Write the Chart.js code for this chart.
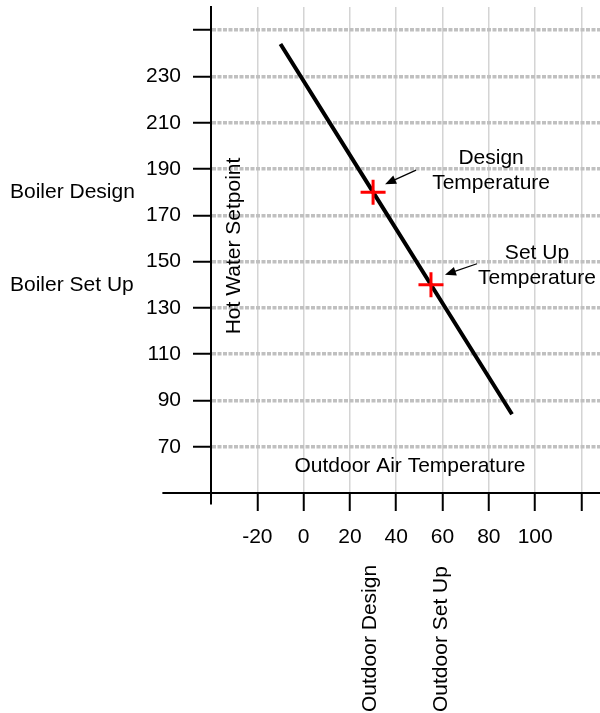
<!DOCTYPE html>
<html>
<head>
<meta charset="utf-8">
<script src="https://cdn.jsdelivr.net/npm/chart.js@4.4.1/dist/chart.umd.min.js"></script>
<style>
    html, body { margin: 0; padding: 0; background: #fff; }
</style>
</head>
<body>
<canvas id="resetChart" width="600" height="713"></canvas>
<script>
    // Outdoor reset curve: outdoor air temperature vs hot water setpoint
    const outdoorTemp = [-10, 30, 55, 90];
    const waterSetpoint = [244, 180, 140, 84];

    // Design and set up points (red crosses)
    const markTemp = [30, 55];
    const markWater = [180, 140];
    const boilerLabels = ['Boiler Design', 'Boiler Set Up'];
    const outdoorLabels = ['Outdoor Design', 'Outdoor Set Up'];
    const noteLabels = [['Design', 'Temperature'], ['Set Up', 'Temperature']];

    // Axis ticks and which of them get a label
    const xTicks = [-40, -20, 0, 20, 40, 60, 80, 100, 120];
    const xLabels = [-20, 0, 20, 40, 60, 80, 100];
    const yTicks = [250, 230, 210, 190, 170, 150, 130, 110, 90, 70];
    const yLabels = [230, 210, 190, 170, 150, 130, 110, 90, 70];

    const FONT = '"Liberation Sans", Arial, sans-serif';
    Chart.defaults.font.family = FONT;
    Chart.defaults.font.size = 21;
    Chart.defaults.color = '#000';

    // texts, arrows and the axis stubs past the crossing point
    const extras = {
        id: 'extras',
        afterDraw(chart) {
            const {ctx, chartArea: area, scales: {x, y}} = chart;
            ctx.save();

            ctx.strokeStyle = '#000';
            ctx.lineWidth = 2;
            ctx.beginPath();
            ctx.moveTo(x.getPixelForValue(-61), area.bottom);
            ctx.lineTo(area.left, area.bottom);
            ctx.moveTo(area.left, area.bottom);
            ctx.lineTo(area.left, y.getPixelForValue(45));
            ctx.stroke();

            ctx.fillStyle = '#000';
            ctx.font = '21px ' + FONT;

            // boiler labels at the left edge
            ctx.textAlign = 'left';
            ctx.textBaseline = 'middle';
            boilerLabels.forEach((t, i) => ctx.fillText(t, 10, y.getPixelForValue(markWater[i])));

            // outdoor labels, vertical, below the x ticks
            ctx.textBaseline = 'alphabetic';
            const shift = [3, 16];
            outdoorLabels.forEach((t, i) => {
                ctx.save();
                ctx.translate(x.getPixelForValue(markTemp[i]) + shift[i], 712);
                ctx.rotate(-Math.PI / 2);
                ctx.fillText(t, 0, 0);
                ctx.restore();
            });

            // axis titles inside the plot
            ctx.textAlign = 'center';
            ctx.save();
            ctx.translate(area.left + 29, area.top + 239);
            ctx.rotate(-Math.PI / 2);
            ctx.fillText('Hot Water Setpoint', 0, 0);
            ctx.restore();
            ctx.fillText('Outdoor Air Temperature', area.left + 199, area.bottom - 21);

            // notes with arrows pointing at the crosses
            const notes = [
                {dx: 118, dy: -28, tail: [43, -22], tip: [12, -8]},
                {dx: 106, dy: -26, tail: [46, -21], tip: [14, -10]}
            ];
            notes.forEach((n, i) => {
                const px = x.getPixelForValue(markTemp[i]);
                const py = y.getPixelForValue(markWater[i]);
                noteLabels[i].forEach((t, k) => ctx.fillText(t, px + n.dx, py + n.dy + k * 25));

                const x1 = px + n.tail[0], y1 = py + n.tail[1];
                const x2 = px + n.tip[0], y2 = py + n.tip[1];
                const a = Math.atan2(y2 - y1, x2 - x1);
                ctx.lineWidth = 1.2;
                ctx.beginPath();
                ctx.moveTo(x1, y1);
                ctx.lineTo(x2 - 8 * Math.cos(a), y2 - 8 * Math.sin(a));
                ctx.stroke();
                ctx.beginPath();
                ctx.moveTo(x2, y2);
                ctx.lineTo(x2 - 11 * Math.cos(a) + 4.5 * Math.sin(a), y2 - 11 * Math.sin(a) - 4.5 * Math.cos(a));
                ctx.lineTo(x2 - 11 * Math.cos(a) - 4.5 * Math.sin(a), y2 - 11 * Math.sin(a) + 4.5 * Math.cos(a));
                ctx.closePath();
                ctx.fill();
            });

            ctx.restore();
        }
    };

    const ctx = document.getElementById('resetChart').getContext('2d');
    new Chart(ctx, {
        type: 'scatter',
        data: {
            datasets: [{
                label: 'Reset line',
                data: outdoorTemp.map((t, i) => ({x: t, y: waterSetpoint[i]})),
                showLine: true,
                borderColor: '#000',
                borderWidth: 4,
                pointRadius: 0,
                order: 2
            }, {
                label: 'Points',
                data: markTemp.map((t, i) => ({x: t, y: markWater[i]})),
                pointStyle: 'cross',
                pointRadius: 12.5,
                borderColor: '#ff0000',
                pointBorderWidth: 3,
                order: 1
            }]
        },
        options: {
            responsive: false,
            animation: false,
            layout: {
                autoPadding: false,
                padding: {top: 7, left: 0, right: 0, bottom: 0}
            },
            scales: {
                x: {
                    type: 'linear',
                    min: -40,
                    max: 128,
                    afterBuildTicks: s => { s.ticks = xTicks.map(v => ({value: v})); },
                    afterFit: s => { s.height = 220; s.paddingLeft = 0; s.paddingRight = 0; },
                    ticks: {
                        autoSkip: false,
                        maxRotation: 0,
                        padding: 14,
                        callback: v => xLabels.includes(v) ? String(v) : ''
                    },
                    grid: {
                        color: '#d4d4d4',
                        lineWidth: 1.5,
                        tickLength: 18,
                        tickWidth: 2,
                        tickColor: c => c.tick && c.tick.value === -40 ? 'rgba(0,0,0,0)' : '#000'
                    },
                    border: {color: '#000', width: 2}
                },
                y: {
                    min: 50,
                    max: 260,
                    afterBuildTicks: s => { s.ticks = yTicks.map(v => ({value: v})); },
                    afterFit: s => { s.width = 211; s.paddingTop = 0; s.paddingBottom = 0; },
                    ticks: {
                        padding: 12,
                        callback: v => yLabels.includes(v) ? String(v) : ''
                    },
                    grid: {
                        color: '#c0c0c0',
                        lineWidth: 3.5,
                        tickLength: 18,
                        tickWidth: 2,
                        tickColor: '#000'
                    },
                    border: {color: '#000', width: 2, dash: [4, 1.5]}
                }
            },
            plugins: {
                legend: {display: false},
                tooltip: {enabled: false}
            }
        },
        plugins: [extras]
    });
</script>
</body>
</html>
